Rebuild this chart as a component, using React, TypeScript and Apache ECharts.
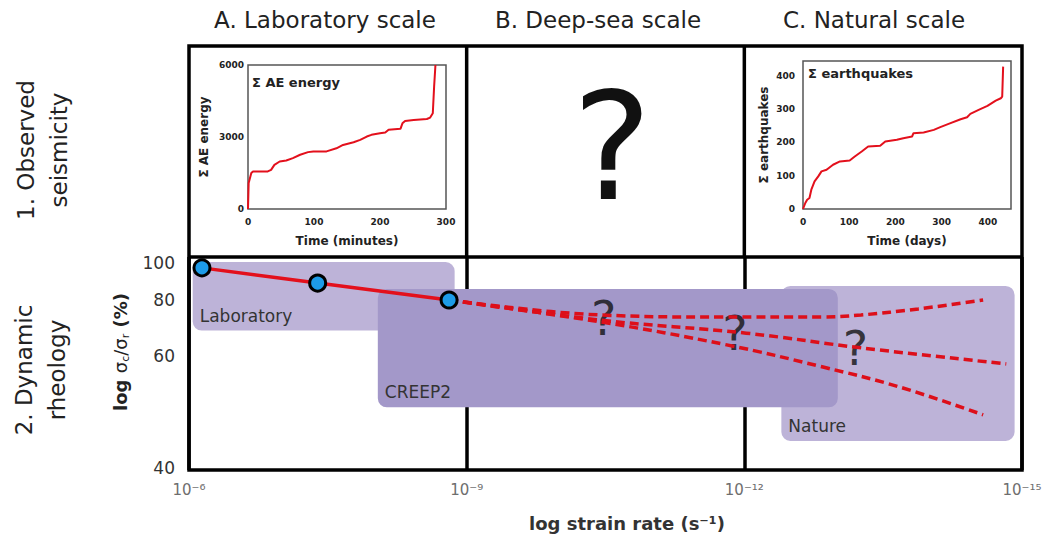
import React, { useEffect, useRef } from "react";
import * as echarts from "echarts";

const FONT = "DejaVu Sans";

// Headings
const columnTitles = ["A. Laboratory scale", "B. Deep-sea scale", "C. Natural scale"];
const rowTitles = ["1. Observed\nseismicity", "2. Dynamic\nrheology"];

// Inset A: cumulative AE energy vs time (minutes)
const aeTime = [0, 1, 5, 7.6, 30, 35, 40, 48, 58, 68, 79, 91, 99, 119, 134, 144, 160, 170, 180, 187, 200, 208, 213, 231, 234, 238, 251, 271, 276, 280, 282, 284];
const aeEnergy = [0, 1080, 1500, 1565, 1565, 1630, 1840, 1980, 2020, 2120, 2260, 2370, 2400, 2400, 2530, 2670, 2780, 2880, 3020, 3090, 3160, 3185, 3300, 3340, 3570, 3670, 3710, 3750, 3810, 3990, 5100, 6000];

// Inset C: cumulative earthquakes vs time (days)
const eqDays = [0, 5, 9, 14, 18, 25, 33, 40, 51, 65, 80, 101, 112, 127, 141, 167, 178, 203, 217, 236, 239, 261, 283, 297, 315, 341, 355, 362, 380, 399, 417, 428, 431, 433];
const eqCount = [0, 18, 28, 33, 58, 83, 98, 113, 118, 133, 143, 146, 158, 173, 188, 190, 203, 208, 213, 218, 228, 230, 238, 246, 256, 270, 276, 286, 298, 310, 326, 333, 338, 428];

// Bottom panel: strain-rate exponent (10^-x) and ratio (%)
const strainTicks = [6, 9, 12, 15];
const ratioTicks = [40, 60, 80, 100];
const labExp = [6.14, 7.39, 8.81];
const labRatio = [97, 88.4, 80.1];
const upperExp = [8.81, 10.45, 11.77, 12.85, 13.26, 13.88, 14.58];
const upperRatio = [80.1, 73.7, 72.9, 72.9, 73.7, 76.2, 80.1];
const middleExp = [8.81, 10.45, 12.02, 13.26, 14.83];
const middleRatio = [80.1, 71.7, 67.0, 62.3, 57.8];
const lowerExp = [8.81, 10.45, 11.81, 12.85, 13.67, 14.58];
const lowerRatio = [80.1, 71.0, 63.2, 57.0, 52.4, 47.1];
const questionExp = [10.48, 11.9, 13.2];
const questionRatio = [72.5, 67.0, 62.3];

// Shaded regimes
const regionNames = ["Laboratory", "Nature", "CREEP2"];
const regionExpFrom = [6.04, 12.4, 8.04];
const regionExpTo = [8.87, 14.92, 13.01];
const regionRatioTop = [100.6, 86.9, 85.4];
const regionRatioBottom = [67.9, 43.2, 48.4];
const regionColors: Record<string, string> = {
  Laboratory: "#bdb3d8",
  Nature: "#bdb3d8",
  CREEP2: "#a398c9",
};

// y-scale of the schematic ratio axis
const OFFSET = 28;
const u = (v: number) => Math.log10(v - OFFSET);
const Y_MIN = 1.0716;
const Y_MAX = 1.8801;

const SUP: Record<string, string> = { "-": "⁻", "0": "⁰", "1": "¹", "2": "²", "3": "³", "4": "⁴", "5": "⁵", "6": "⁶", "7": "⁷", "8": "⁸", "9": "⁹" };
const sup = (s: string) => s.split("").map((c) => SUP[c] || c).join("");

const G = { left: 189, top: 257, width: 833, height: 213 };
const xAt = (e: number) => G.left + (G.width * (e - 6)) / 9;

const pairs = (xs: number[], ys: number[]) => xs.map((x, i) => [x, ys[i]]);
const pairsU = (xs: number[], ys: number[]) => xs.map((x, i) => [x, u(ys[i])]);

const insetLabel = { fontFamily: FONT, fontWeight: "bold" as const, fontSize: 9, color: "#222", formatter: (v: number) => String(v) };
const insetName = { fontFamily: FONT, fontWeight: "bold" as const, fontSize: 12, color: "#222" };
const RED = "#e3101c";
const DASH = { color: "#dd0f1a", width: 3.5, type: [9, 5] };

function buildOption() {
  return {
    animation: false,
    backgroundColor: "#ffffff",
    grid: [
      { left: 248, top: 65, width: 198, height: 144, show: true, borderColor: "#555", borderWidth: 1.5, outerBoundsMode: "none", containLabel: false },
      { left: 803, top: 61, width: 208, height: 148, show: true, borderColor: "#555", borderWidth: 1.5, outerBoundsMode: "none", containLabel: false },
      { left: G.left, top: G.top, width: G.width, height: G.height, outerBoundsMode: "none", containLabel: false },
    ],
    xAxis: [
      {
        gridIndex: 0, type: "value", min: 0, max: 300, interval: 100,
        name: "Time (minutes)", nameLocation: "middle", nameGap: 26, nameTextStyle: insetName,
        axisLine: { show: false }, axisTick: { show: false }, splitLine: { show: false },
        axisLabel: { ...insetLabel, margin: 8 },
      },
      {
        gridIndex: 1, type: "value", min: 0, max: 450, interval: 100,
        name: "Time (days)", nameLocation: "middle", nameGap: 26, nameTextStyle: insetName,
        axisLine: { show: false }, axisTick: { show: false }, splitLine: { show: false },
        axisLabel: { ...insetLabel, margin: 8, showMaxLabel: false },
      },
      {
        gridIndex: 2, type: "value", min: 6, max: 15, interval: 3,
        axisLine: { show: false }, axisTick: { show: false },
        splitLine: { show: true, lineStyle: { color: "#000", width: 3.5 } },
        axisLabel: {
          fontFamily: FONT, fontSize: 15, color: "#6e6e6e", margin: 12,
          customValues: strainTicks,
          formatter: (v: number) => "10" + sup(String(-v)),
        },
      },
    ],
    yAxis: [
      {
        gridIndex: 0, type: "value", min: 0, max: 6000, interval: 3000,
        name: "Σ AE energy", nameLocation: "middle", nameGap: 38, nameTextStyle: insetName,
        axisLine: { show: false }, axisTick: { show: false }, splitLine: { show: false },
        axisLabel: { ...insetLabel, margin: 4 },
      },
      {
        gridIndex: 1, type: "value", min: 0, max: 445, interval: 100,
        name: "Σ earthquakes", nameLocation: "middle", nameGap: 33, nameTextStyle: insetName,
        axisLine: { show: false }, axisTick: { show: false }, splitLine: { show: false },
        axisLabel: { ...insetLabel, margin: 8, showMaxLabel: false },
      },
      {
        gridIndex: 2, type: "value", min: Y_MIN, max: Y_MAX,
        axisLine: { show: false }, axisTick: { show: false }, splitLine: { show: false },
        axisLabel: {
          fontFamily: FONT, fontSize: 17, color: "#333", margin: 14,
          customValues: ratioTicks.map(u),
          formatter: (val: number) => String(Math.round(Math.pow(10, val) + OFFSET)),
        },
      },
    ],
    series: [
      {
        type: "line", xAxisIndex: 0, yAxisIndex: 0, showSymbol: false,
        data: pairs(aeTime, aeEnergy), lineStyle: { color: RED, width: 2 },
      },
      {
        type: "line", xAxisIndex: 1, yAxisIndex: 1, showSymbol: false,
        data: pairs(eqDays, eqCount), lineStyle: { color: RED, width: 2 },
      },
      {
        type: "custom", xAxisIndex: 2, yAxisIndex: 2,
        data: regionNames.map((_, i) => [regionExpFrom[i], regionExpTo[i], u(regionRatioTop[i]), u(regionRatioBottom[i])]),
        encode: { x: [0, 1], y: [2, 3] },
        renderItem: (params: any, api: any) => {
          const p0 = api.coord([api.value(0), api.value(2)]);
          const p1 = api.coord([api.value(1), api.value(3)]);
          const name = regionNames[params.dataIndex];
          return {
            type: "group",
            children: [
              {
                type: "rect",
                shape: { x: p0[0], y: p0[1], width: p1[0] - p0[0], height: p1[1] - p0[1], r: 9 },
                style: { fill: regionColors[name] },
              },
              {
                type: "text", x: p0[0] + 7, y: p1[1] - 15,
                style: { text: name, fontFamily: FONT, fontSize: 17, fill: "#333", align: "left", verticalAlign: "middle" },
              },
            ],
          };
        },
      },
      { type: "line", xAxisIndex: 2, yAxisIndex: 2, smooth: 0.4, showSymbol: false, data: pairsU(upperExp, upperRatio), lineStyle: DASH },
      { type: "line", xAxisIndex: 2, yAxisIndex: 2, smooth: 0.4, showSymbol: false, data: pairsU(middleExp, middleRatio), lineStyle: DASH },
      { type: "line", xAxisIndex: 2, yAxisIndex: 2, smooth: 0.4, showSymbol: false, data: pairsU(lowerExp, lowerRatio), lineStyle: DASH },
      {
        type: "line", xAxisIndex: 2, yAxisIndex: 2,
        data: pairsU(labExp, labRatio),
        lineStyle: { color: RED, width: 3.5 },
        symbol: "circle", symbolSize: 16, showSymbol: true,
        itemStyle: { color: "#1d9be8", borderColor: "#000", borderWidth: 3 },
      },
      {
        type: "scatter", xAxisIndex: 2, yAxisIndex: 2,
        data: pairsU(questionExp, questionRatio),
        symbolSize: 1, itemStyle: { color: "transparent" },
        label: { show: true, position: "inside", formatter: "?", fontFamily: FONT, fontSize: 48, color: "#111" },
      },
    ],
    graphic: [
      ...columnTitles.map((t, i) => ({
        type: "text", x: [325, 598, 874][i], y: 20,
        style: { text: t, fontFamily: FONT, fontSize: 23, fill: "#222", align: "center", verticalAlign: "middle" },
      })),
      ...rowTitles.map((t, i) => ({
        type: "text", x: [42, 40][i], y: [150, 370][i], rotation: Math.PI / 2,
        style: { text: t, fontFamily: FONT, fontSize: 23, lineHeight: 33, fill: "#222", align: "center", verticalAlign: "middle" },
      })),
      {
        type: "rect", shape: { x: G.left, y: 46, width: G.width, height: G.top + G.height - 46 },
        style: { fill: "none", stroke: "#000", lineWidth: 3.5 },
      },
      { type: "line", shape: { x1: G.left, y1: G.top, x2: G.left + G.width, y2: G.top }, style: { stroke: "#000", lineWidth: 3.5 } },
      { type: "line", shape: { x1: xAt(9), y1: 46, x2: xAt(9), y2: G.top }, style: { stroke: "#000", lineWidth: 3.5 } },
      { type: "line", shape: { x1: xAt(12), y1: 46, x2: xAt(12), y2: G.top }, style: { stroke: "#000", lineWidth: 3.5 } },
      {
        type: "text", x: 612, y: 147,
        style: { text: "?", fontFamily: FONT, fontSize: 150, fill: "#111", align: "center", verticalAlign: "middle" },
      },
      {
        type: "text", x: 252, y: 82,
        style: { text: "Σ AE energy", fontFamily: FONT, fontWeight: "bold", fontSize: 13, fill: "#222", align: "left", verticalAlign: "middle" },
      },
      {
        type: "text", x: 808, y: 73,
        style: { text: "Σ earthquakes", fontFamily: FONT, fontWeight: "bold", fontSize: 13, fill: "#222", align: "left", verticalAlign: "middle" },
      },
      {
        type: "text", x: 120, y: 352, rotation: Math.PI / 2,
        style: {
          text: "{b|log }{s|σ}{sub|c}{s|/σ}{sub|r}{b| (%)}",
          align: "center", verticalAlign: "middle",
          rich: {
            b: { fontFamily: FONT, fontWeight: "bold", fontSize: 18, fill: "#222", lineHeight: 22 },
            s: { fontFamily: FONT, fontSize: 18, fill: "#222", lineHeight: 22 },
            sub: { fontFamily: FONT, fontSize: 11, fill: "#222", lineHeight: 22, verticalAlign: "bottom", padding: [7, 0, 0, 0] },
          },
        },
      },
      {
        type: "text", x: 627, y: 523,
        style: { text: "log strain rate (s⁻¹)", fontFamily: FONT, fontWeight: "bold", fontSize: 18, fill: "#333", align: "center", verticalAlign: "middle" },
      },
    ],
  };
}

export default function App() {
  const ref = useRef<HTMLDivElement>(null);
  useEffect(() => {
    document.body.style.margin = "0";
    const chart = echarts.init(ref.current as HTMLDivElement, null, { renderer: "svg" });
    chart.setOption(buildOption() as any);
    return () => chart.dispose();
  }, []);
  return <div ref={ref} style={{ width: 1044, height: 542 }} />;
}
